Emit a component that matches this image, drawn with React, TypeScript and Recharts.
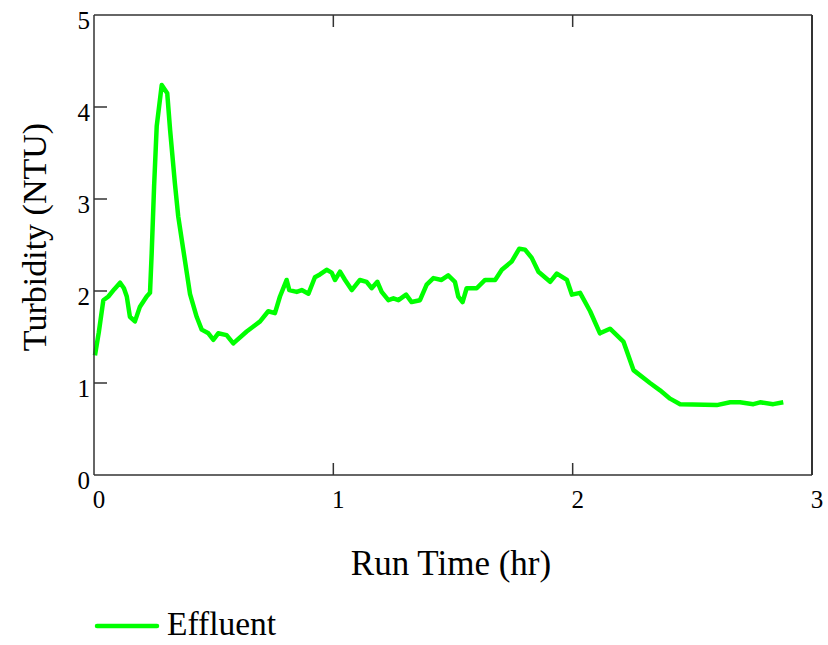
import { LineChart, Line, XAxis, YAxis, Label, Legend } from 'recharts';

// Effluent turbidity
const runTime = [
  0.004, 0.02, 0.039, 0.06, 0.085, 0.109, 0.125, 0.137, 0.15, 0.171, 0.192, 0.22, 0.234, 0.241,
  0.251, 0.262, 0.283, 0.306, 0.318, 0.338, 0.352, 0.373, 0.401, 0.429, 0.45, 0.478, 0.499,
  0.519, 0.554, 0.582, 0.638, 0.694, 0.728, 0.756, 0.777, 0.805, 0.816, 0.847, 0.868, 0.896,
  0.923, 0.944, 0.972, 0.993, 1.007, 1.028, 1.049, 1.077, 1.111, 1.139, 1.16, 1.184, 1.202,
  1.23, 1.251, 1.272, 1.304, 1.327, 1.362, 1.39, 1.418, 1.452, 1.48, 1.508, 1.522, 1.54, 1.557,
  1.599, 1.634, 1.676, 1.704, 1.745, 1.777, 1.801, 1.829, 1.857, 1.906, 1.934, 1.976, 1.997,
  2.031, 2.073, 2.114, 2.156, 2.212, 2.254, 2.323, 2.365, 2.407, 2.449, 2.602, 2.658, 2.699,
  2.755, 2.783, 2.838, 2.88,
];
const effluent = [
  1.3, 1.55, 1.9, 1.94, 2.02, 2.09, 2.03, 1.94, 1.72, 1.67, 1.83, 1.94, 1.98, 2.41,
  3.13, 3.79, 4.24, 4.15, 3.75, 3.17, 2.81, 2.45, 1.97, 1.72, 1.58, 1.54, 1.47,
  1.54, 1.52, 1.43, 1.56, 1.67, 1.78, 1.76, 1.94, 2.12, 2.01, 1.99, 2.01, 1.97,
  2.15, 2.18, 2.23, 2.2, 2.12, 2.21, 2.12, 2.01, 2.12, 2.1, 2.03, 2.1, 1.99,
  1.9, 1.92, 1.9, 1.96, 1.88, 1.9, 2.07, 2.14, 2.12, 2.17, 2.1, 1.94, 1.88, 2.03,
  2.03, 2.12, 2.12, 2.23, 2.32, 2.46, 2.45, 2.36, 2.21, 2.1, 2.19, 2.12, 1.96,
  1.98, 1.78, 1.54, 1.59, 1.45, 1.14, 1.0, 0.92, 0.83, 0.77, 0.76, 0.79, 0.79,
  0.77, 0.79, 0.77, 0.79,
];
const xTicks = [0, 1, 2, 3];
const yTicks = [0, 1, 2, 3, 4, 5];

const data = runTime.map((t, i) => ({ t, effluent: effluent[i] }));

const FONT = 'Liberation Serif, Times New Roman, serif';
const GREEN = '#00ff00';
const AXIS = '#333333';
const txt = { fontFamily: FONT };

const BottomTick = ({ x, y, payload }: any) => (
  <g>
    {payload.value > 0 && payload.value < 3 && (
      <line x1={x} y1={y} x2={x} y2={y - 12} stroke={AXIS} strokeWidth={1.5} />
    )}
    <text x={x + 5} y={y + 33} textAnchor="middle" fontSize={25} style={txt} fill="#000">
      {payload.value}
    </text>
  </g>
);

const TopTick = ({ x, y }: any) => (
  <line x1={x} y1={y} x2={x} y2={y + 12} stroke={AXIS} strokeWidth={1.5} />
);

const LeftTick = ({ x, y, payload }: any) => (
  <g>
    {payload.value > 0 && payload.value < 5 && (
      <line x1={x} y1={y} x2={x + 13} y2={y} stroke={AXIS} strokeWidth={1.5} />
    )}
    <text x={x - 4} y={y + 14} textAnchor="end" fontSize={25} style={txt} fill="#000">
      {payload.value}
    </text>
  </g>
);

const RightTick = ({ x, y }: any) => (
  <line x1={x} y1={y} x2={x - 13} y2={y} stroke={AXIS} strokeWidth={1.5} />
);

const renderLegend = () => (
  <svg width={220} height={40}>
    <line x1={7} y1={21} x2={67} y2={21} stroke={GREEN} strokeWidth={4.5} strokeLinecap="round" />
    <text x={77} y={30} fontSize={33.5} style={txt} fill="#000">
      Effluent
    </text>
  </svg>
);

export default function App() {
  return (
    <div style={{ position: 'absolute', left: 0, top: 0 }}>
      <LineChart
        width={828}
        height={645}
        data={data}
        margin={{ top: 14, right: 15, bottom: 0, left: 0 }}
      >
        <XAxis
          dataKey="t"
          type="number"
          domain={[0, 3]}
          ticks={xTicks}
          height={170}
          tickSize={0}
          tickMargin={0}
          tickLine={false}
          axisLine={{ stroke: AXIS, strokeWidth: 1.5 }}
          tick={<BottomTick />}
          interval={0}
        >
          <Label
            content={({ viewBox }: any) => (
              <text
                x={viewBox.x + viewBox.width / 2 - 2}
                y={viewBox.y + 100}
                textAnchor="middle"
                fontSize={35}
                style={txt}
                fill="#000"
              >
                Run Time (hr)
              </text>
            )}
          />
        </XAxis>
        <XAxis
          xAxisId="top"
          dataKey="t"
          type="number"
          orientation="top"
          domain={[0, 3]}
          ticks={[1, 2]}
          height={1}
          tickSize={0}
          tickMargin={0}
          tickLine={false}
          axisLine={{ stroke: AXIS, strokeWidth: 1.5 }}
          tick={<TopTick />}
          interval={0}
        />
        <YAxis
          type="number"
          domain={[0, 5]}
          ticks={yTicks}
          width={94}
          tickSize={0}
          tickMargin={0}
          tickLine={false}
          axisLine={{ stroke: AXIS, strokeWidth: 1.5 }}
          tick={<LeftTick />}
          interval={0}
        >
          <Label
            content={() => (
              <text
                x={34}
                y={237}
                transform="rotate(-90 34 237)"
                textAnchor="middle"
                dominantBaseline="central"
                fontSize={34}
                style={txt}
                fill="#000"
              >
                Turbidity (NTU)
              </text>
            )}
          />
        </YAxis>
        <YAxis
          yAxisId="right"
          orientation="right"
          type="number"
          domain={[0, 5]}
          ticks={[1, 2, 3, 4]}
          width={1}
          tickSize={0}
          tickMargin={0}
          tickLine={false}
          axisLine={{ stroke: AXIS, strokeWidth: 2 }}
          tick={<RightTick />}
          interval={0}
        />
        <Legend
          layout="horizontal"
          verticalAlign="middle"
          align="center"
          content={renderLegend}
          wrapperStyle={{ position: 'absolute', top: 605, left: 90, width: 220, height: 40 }}
        />
        <Line
          dataKey="effluent"
          type="linear"
          stroke={GREEN}
          strokeWidth={4.5}
          strokeLinejoin="round"
          dot={false}
          isAnimationActive={false}
          name="Effluent"
        />
      </LineChart>
    </div>
  );
}
